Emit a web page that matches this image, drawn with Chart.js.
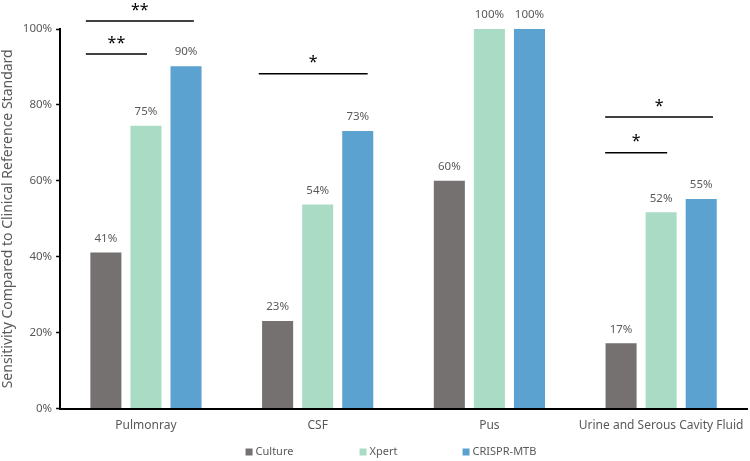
<!DOCTYPE html>
<html>
<head>
<meta charset="utf-8">
<script src="https://cdn.jsdelivr.net/npm/chart.js@4.4.1/dist/chart.umd.min.js"></script>
<style>
  html, body { margin: 0; padding: 0; background: #fff; }
  #wrap { width: 750px; height: 461px; }
</style>
</head>
<body>
<div id="wrap"><canvas id="c" width="750" height="461"></canvas></div>
<script>
const categories = ['Pulmonray', 'CSF', 'Pus', 'Urine and Serous Cavity Fluid'];
const seriesNames = ['Culture', 'Xpert', 'CRISPR-MTB'];
const culture = [41.1, 23.1, 60, 17.2];
const xpert = [74.5, 53.8, 100, 51.7];
const crispr = [90.2, 73.1, 100, 55.2];
const yTicks = [0, 20, 40, 60, 80, 100];
// significance brackets: category index, from / to offsets (in category units), height (%), label
const sigCategory = [0, 0, 1, 3, 3];
const sigFrom = [-0.35, -0.35, -0.343, -0.326, -0.326];
const sigTo = [0.279, 0.006, 0.291, 0.302, 0.035];
const sigLevel = [102.1, 93.4, 88.2, 76.8, 67.4];
const sigLabel = ['**', '**', '*', '*', '*'];

const colors = ['#767171', '#AADBC4', '#5BA2D0'];
const FONT = "'Noto Sans', 'DejaVu Sans', sans-serif";
const GREY = '#595959';

const valueLabels = {
  id: 'valueLabels',
  afterDatasetsDraw(chart) {
    const ctx = chart.ctx;
    ctx.save();
    ctx.font = '11.5px ' + FONT;
    ctx.fillStyle = GREY;
    ctx.textAlign = 'center';
    ctx.textBaseline = 'middle';
    chart.data.datasets.forEach((ds, i) => {
      const meta = chart.getDatasetMeta(i);
      meta.data.forEach((bar, j) => {
        ctx.fillText(Math.round(ds.data[j]) + '%', bar.x, bar.y - 14);
      });
    });
    ctx.restore();
  }
};

const sigPlugin = {
  id: 'sigPlugin',
  afterDatasetsDraw(chart) {
    const ctx = chart.ctx;
    const xs = chart.scales.x, ys = chart.scales.y;
    const catW = xs.getPixelForValue(1) - xs.getPixelForValue(0);
    ctx.save();
    ctx.strokeStyle = '#000';
    ctx.lineWidth = 1.5;
    ctx.fillStyle = '#000';
    ctx.font = '16px ' + FONT;
    ctx.textAlign = 'center';
    ctx.textBaseline = 'middle';
    sigCategory.forEach((c, k) => {
      const cx = xs.getPixelForValue(c);
      const x1 = cx + sigFrom[k] * catW;
      const x2 = cx + sigTo[k] * catW;
      const y = ys.getPixelForValue(sigLevel[k]);
      ctx.beginPath();
      ctx.moveTo(x1, y);
      ctx.lineTo(x2, y);
      ctx.stroke();
      ctx.fillText(sigLabel[k], (x1 + x2) / 2, y - 11);
    });
    ctx.restore();
  }
};

const customLegend = {
  id: 'customLegend',
  afterDraw(chart) {
    const ctx = chart.ctx;
    const box = 7, textGap = 10;
    const offsets = [-158, -44, 59];
    ctx.save();
    ctx.font = '11px ' + FONT;
    ctx.textBaseline = 'middle';
    ctx.textAlign = 'left';
    const ca = chart.chartArea;
    const cx = (ca.left + ca.right) / 2;
    const y = chart.height - 9;
    seriesNames.forEach((n, i) => {
      const x = cx + offsets[i];
      ctx.fillStyle = colors[i];
      ctx.fillRect(x, y - box / 2, box, box);
      ctx.fillStyle = GREY;
      ctx.fillText(n, x + textGap, y);
    });
    ctx.restore();
  }
};

const dataSets = [culture, xpert, crispr].map((d, i) => ({
  label: seriesNames[i],
  data: d,
  backgroundColor: colors[i],
  borderWidth: 0,
  categoryPercentage: 0.7,
  barPercentage: 0.775
}));

new Chart(document.getElementById('c'), {
  type: 'bar',
  data: { labels: categories, datasets: dataSets },
  options: {
    responsive: false,
    animation: false,
    layout: { padding: { top: 29, right: 3, left: 0, bottom: 18 } },
    plugins: {
      legend: { display: false },
      tooltip: { enabled: false }
    },
    scales: {
      x: {
        grid: { display: false, drawTicks: false },
        border: { display: true, color: '#000', width: 2 },
        ticks: { color: GREY, font: { family: FONT, size: 12 }, padding: 10 },
        afterFit(scale) { scale.paddingLeft = 0; scale.paddingRight = 0; }
      },
      y: {
        min: 0, max: 100,
        afterBuildTicks(axis) { axis.ticks = yTicks.map(v => ({ value: v })); },
        grid: { display: true, drawOnChartArea: false, drawTicks: true, tickLength: 4, tickColor: '#000', tickWidth: 1.5 },
        border: { display: true, color: '#000', width: 2 },
        ticks: { color: GREY, font: { family: FONT, size: 11.5 }, padding: 4, callback: v => v + '%' },
        title: { display: true, text: 'Sensitivity Compared to Clinical Reference Standard', color: GREY, font: { family: FONT, size: 14 }, padding: { top: 0, bottom: 2 } }
      }
    }
  },
  plugins: [valueLabels, sigPlugin, customLegend]
});
</script>
</body>
</html>
